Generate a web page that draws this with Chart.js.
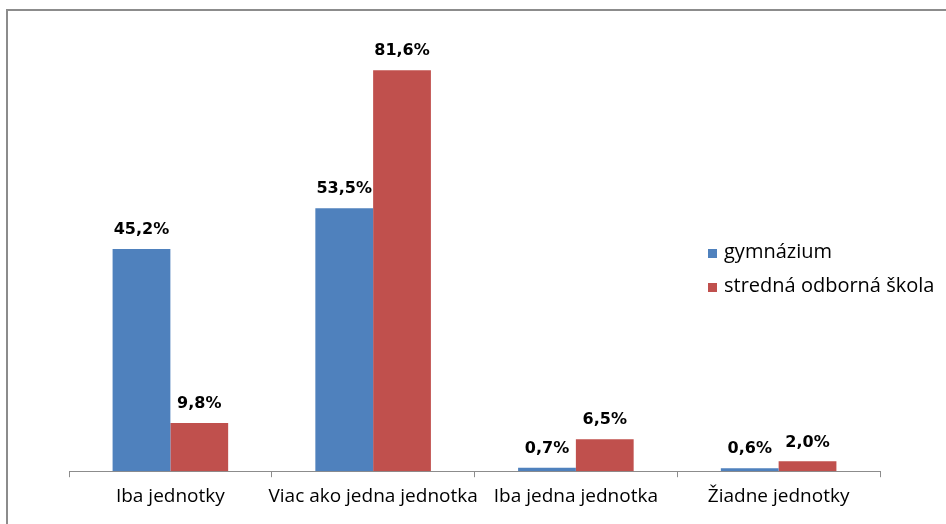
<!DOCTYPE html>
<html>
<head>
<meta charset="utf-8">
<script src="https://cdn.jsdelivr.net/npm/chart.js@4"></script>
<style>
  html, body { margin: 0; padding: 0; background: #fff; overflow: hidden; }
</style>
</head>
<body>
<canvas id="myChart" width="946" height="524"></canvas>
<script>
// categories along the x-axis
var categories = ['Iba jednotky', 'Viac ako jedna jednotka', 'Iba jedna jednotka', 'Žiadne jednotky'];
// percentages per school type
var gymnazium = [45.2, 53.5, 0.7, 0.6];
var odborna = [9.8, 81.6, 6.5, 2.0];
var seriesNames = ['gymnázium', 'stredná odborná škola'];

// grey chart frame, only top and left edges show in the original
var frame = {
  id: 'frame',
  beforeDraw: function(chart) {
    var ctx = chart.ctx;
    ctx.save();
    ctx.fillStyle = '#fff';
    ctx.fillRect(0, 0, chart.width, chart.height);
    ctx.fillStyle = '#8c8c8c';
    ctx.fillRect(6, 9, chart.width - 6, 2);
    ctx.fillRect(6, 9, 2, chart.height - 9);
    ctx.restore();
  }
};

// values on top of the bars
var valueLabels = {
  id: 'valueLabels',
  afterDatasetsDraw: function(chart) {
    var ctx = chart.ctx;
    ctx.save();
    ctx.font = 'bold 16px "DejaVu Sans"';
    ctx.fillStyle = '#000';
    ctx.textAlign = 'center';
    ctx.textBaseline = 'middle';
    chart.data.datasets.forEach(function(ds, i) {
      chart.getDatasetMeta(i).data.forEach(function(bar, j) {
        ctx.fillText(ds.data[j].toFixed(1).replace('.', ',') + '%', bar.x, bar.y - 19);
      });
    });
    ctx.restore();
  }
};

// legend sits over the plot like in the original
var sideLegend = {
  id: 'sideLegend',
  afterDraw: function(chart) {
    var ctx = chart.ctx;
    ctx.save();
    ctx.font = '20px "Open Sans"';
    ctx.textBaseline = 'middle';
    chart.data.datasets.forEach(function(ds, i) {
      var y = 253 + i * 34;
      ctx.fillStyle = ds.backgroundColor;
      ctx.fillRect(708, y - 4, 9, 9);
      ctx.fillStyle = '#000';
      ctx.fillText(ds.label, 724, y - 1);
    });
    ctx.restore();
  }
};

var ctx = document.getElementById('myChart');
var myChart = new Chart(ctx, {
  type: 'bar',
  data: {
    labels: categories,
    datasets: [
      {
        label: seriesNames[0],
        data: gymnazium,
        backgroundColor: '#4F81BD',
        categoryPercentage: 0.57,
        barPercentage: 1
      },
      {
        label: seriesNames[1],
        data: odborna,
        backgroundColor: '#C0504D',
        categoryPercentage: 0.57,
        barPercentage: 1
      }
    ]
  },
  options: {
    responsive: false,
    animation: false,
    layout: { padding: { left: 69, right: 66, top: 29, bottom: 8 } },
    plugins: {
      legend: { display: false },
      tooltip: { enabled: false }
    },
    scales: {
      x: {
        grid: {
          offset: true,
          drawOnChartArea: false,
          drawTicks: true,
          tickLength: 6,
          color: '#8c8c8c'
        },
        border: { color: '#8c8c8c', width: 1 },
        ticks: {
          color: '#000',
          padding: 8,
          maxRotation: 0,
          autoSkip: false,
          font: { family: 'Open Sans', size: 19 }
        }
      },
      y: {
        display: false,
        min: 0,
        max: 90
      }
    }
  },
  plugins: [frame, valueLabels, sideLegend]
});
</script>
</body>
</html>
